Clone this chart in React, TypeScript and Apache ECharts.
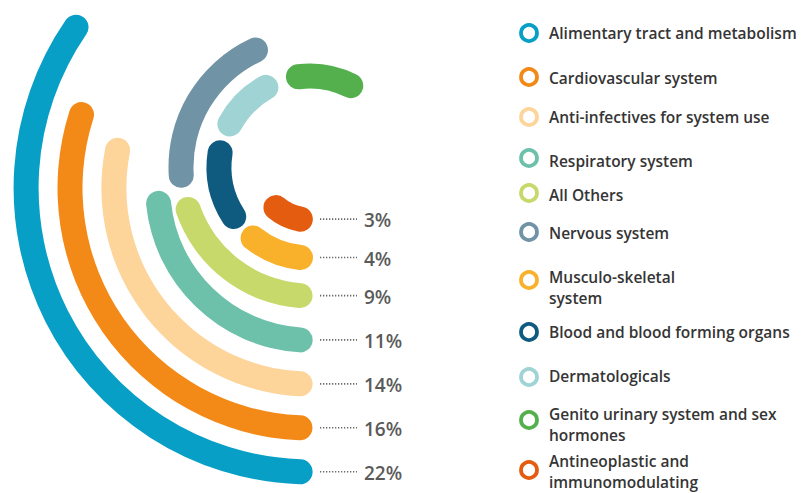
import React, { useEffect, useRef } from 'react';
import * as echarts from 'echarts';

// ---- data ----
const categories = [
  'Alimentary tract and metabolism',
  'Cardiovascular system',
  'Anti-infectives for system use',
  'Respiratory system',
  'All Others',
  'Nervous system',
  'Musculo-skeletal system',
  'Blood and blood forming organs',
  'Dermatologicals',
  'Genito urinary system and sex hormones',
  'Antineoplastic and immunomodulating',
];
const legendLabels = [
  'Alimentary tract and metabolism',
  'Cardiovascular system',
  'Anti-infectives for system use',
  'Respiratory system',
  'All Others',
  'Nervous system',
  'Musculo-skeletal\nsystem',
  'Blood and blood forming organs',
  'Dermatologicals',
  'Genito urinary system and sex\nhormones',
  'Antineoplastic and\nimmunomodulating',
];
const shares: (number | null)[] = [22, 16, 14, 11, 9, null, 4, null, null, null, 3];
// drawn arc extents (degrees, clockwise from the bottom)
const arcStart = [2.0, 2.4, 2.9, 3.7, 4.4, 86.3, 6.0, 57.0, 118.3, 172.7, 10.5];
const arcEnd = [124.5, 107.8, 101.1, 84.2, 70.8, 155.0, 38.7, 99.0, 151.0, 206.6, 40.0];
const colors = [
  '#079fc5', '#f38a17', '#fdd49a', '#6dc1aa', '#c7d96a', '#7093a6',
  '#f9b12b', '#0f5b80', '#9fd3d4', '#53b04d', '#e45c10',
];
// [polar index, ring index (0 = innermost)]
const ringOf: [number, number][] = [
  [1, 3], [1, 2], [1, 1], [1, 0], [0, 2], [0, 2], [0, 1], [0, 1], [0, 1], [0, 1], [0, 0],
];

// ---- layout ----
const POLARS = [
  { center: [310, 167], inner: 34, band: 38, rings: 3 },
  { center: [310, 188], inner: 130.25, band: 43.9, rings: 4 },
];
const BAR_W = 25;
const legendMarkerY = [33, 77, 117, 158, 193, 232, 280, 332, 377, 420, 470];
const legendTextY = [33, 78, 117, 161, 195, 233, 276.5, 332, 376, 414, 461];
const LEGEND_LINE = 21.2;
const FONT = '"Open Sans", "DejaVu Sans", sans-serif';

export default function App() {
  const ref = useRef<HTMLDivElement>(null);
  useEffect(() => {
    document.body.style.margin = '0';
    if (!ref.current) return;
    const chart = echarts.init(ref.current, undefined, { renderer: 'svg' });

    const series: any[] = [];
    POLARS.forEach((P, p) => {
      const idxs = categories
        .map((_, i) => i)
        .filter((i) => ringOf[i][0] === p)
        .sort((a, b) => arcStart[a] - arcStart[b]);
      const lastEnd = new Array(P.rings).fill(0);
      idxs.forEach((i) => {
        const ring = ringOf[i][1];
        const gap: any[] = new Array(P.rings).fill('-');
        gap[ring] = arcStart[i] - lastEnd[ring];
        const seg: any[] = new Array(P.rings).fill('-');
        seg[ring] = arcEnd[i] - arcStart[i];
        lastEnd[ring] = arcEnd[i];
        series.push({
          type: 'bar', coordinateSystem: 'polar', polarIndex: p, stack: 's' + p,
          data: gap, barWidth: BAR_W, roundCap: true, silent: true,
          itemStyle: { color: 'rgba(0,0,0,0)' },
        });
        series.push({
          type: 'bar', name: categories[i], coordinateSystem: 'polar', polarIndex: p, stack: 's' + p,
          data: seg, barWidth: BAR_W, roundCap: true, silent: true,
          itemStyle: { color: colors[i] },
        });
      });
    });

    const graphics: any[] = [];
    // value labels with dotted leaders
    shares.forEach((s, i) => {
      if (s == null) return;
      const [p, ring] = ringOf[i];
      const P = POLARS[p];
      const r = P.inner + (ring + 0.5) * P.band;
      const y = P.center[1] + r * Math.cos((arcStart[i] * Math.PI) / 180);
      graphics.push({
        type: 'line', silent: true,
        shape: { x1: 320, y1: y, x2: 357, y2: y },
        style: { stroke: '#6a6a6a', lineWidth: 1.6, lineDash: [1.3, 1.7] },
      });
      graphics.push({
        type: 'text', silent: true, x: 364, y: y + 1,
        style: {
          text: s + '%', fill: '#5a5a5a', fontSize: 19, fontWeight: 600, fontFamily: FONT,
          verticalAlign: 'middle', align: 'left',
        },
      });
    });
    // legend
    legendLabels.forEach((lab, i) => {
      graphics.push({
        type: 'circle', silent: true,
        shape: { cx: 529, cy: legendMarkerY[i], r: 8 },
        style: { fill: '#fff', stroke: colors[i], lineWidth: 3.8 },
      });
      lab.split('\n').forEach((line, k) => {
        graphics.push({
          type: 'text', silent: true, x: 549, y: legendTextY[i] + k * LEGEND_LINE,
          style: {
            text: line, fill: '#353535', fontSize: 15.5, fontWeight: 600, fontFamily: FONT,
            verticalAlign: 'middle', align: 'left',
          },
        });
      });
    });

    chart.setOption({
      animation: false,
      backgroundColor: '#ffffff',
      polar: POLARS.map((P) => ({
        center: P.center,
        radius: [P.inner, P.inner + P.rings * P.band],
      })),
      angleAxis: POLARS.map((_, p) => ({
        polarIndex: p, type: 'value', min: 0, max: 360, startAngle: 270, clockwise: true, show: false,
      })),
      radiusAxis: POLARS.map((P, p) => ({
        polarIndex: p, type: 'category', show: false,
        data: Array.from({ length: P.rings }, (_, k) => 'ring' + (k + 1)),
      })),
      series,
      graphic: graphics,
    });
    return () => chart.dispose();
  }, []);
  return <div ref={ref} style={{ width: 806, height: 493 }} />;
}
